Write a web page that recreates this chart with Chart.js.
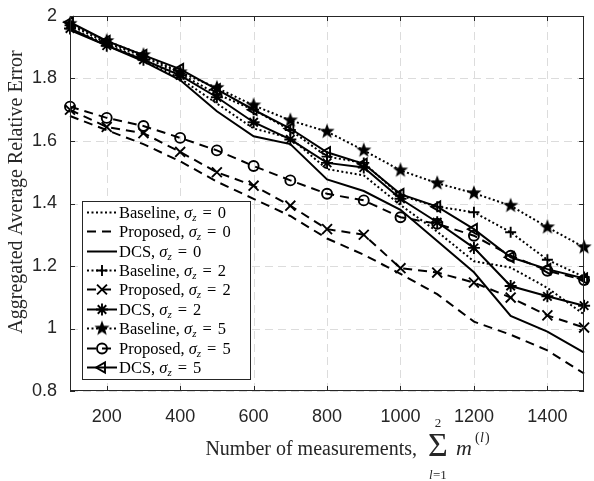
<!DOCTYPE html>
<html>
<head>
<meta charset="utf-8">
<script src="https://cdn.jsdelivr.net/npm/chart.js@4.4.0/dist/chart.umd.min.js"></script>
<style>
  body { margin: 0; background: #fff; }
  #wrap { width: 594px; height: 481px; }
</style>
</head>
<body>
<div id="wrap"><canvas id="errChart" width="594" height="481"></canvas></div>
<script>
// measurements on the x axis
const measurements = [100, 200, 300, 400, 500, 600, 700, 800, 900, 1000, 1100, 1200, 1300, 1400, 1500];
const xTicks = [200, 400, 600, 800, 1000, 1200, 1400];
const yTicks = [0.8, 1, 1.2, 1.4, 1.6, 1.8, 2];

// sigma_z = 0
const baselineS0 = [1.96, 1.91, 1.86, 1.80, 1.72, 1.64, 1.61, 1.51, 1.49, 1.395, 1.31, 1.215, 1.195, 1.13, 1.045];
const proposedS0 = [1.68, 1.635, 1.59, 1.535, 1.47, 1.415, 1.36, 1.288, 1.236, 1.175, 1.11, 1.022, 0.98, 0.93, 0.856];
const dcsS0 = [1.955, 1.905, 1.855, 1.795, 1.695, 1.615, 1.59, 1.477, 1.44, 1.38, 1.28, 1.18, 1.04, 0.99, 0.923];
// sigma_z = 2
const baselineS2 = [1.97, 1.915, 1.87, 1.815, 1.75, 1.70, 1.635, 1.55, 1.53, 1.425, 1.39, 1.372, 1.308, 1.22, 1.165];
const proposedS2 = [1.70, 1.645, 1.625, 1.565, 1.50, 1.457, 1.393, 1.318, 1.30, 1.193, 1.179, 1.147, 1.099, 1.042, 1.003];
const dcsS2 = [1.96, 1.905, 1.86, 1.81, 1.74, 1.66, 1.605, 1.53, 1.515, 1.415, 1.34, 1.258, 1.136, 1.103, 1.073];
// sigma_z = 5
const baselineS5 = [1.975, 1.92, 1.875, 1.82, 1.77, 1.714, 1.666, 1.63, 1.57, 1.506, 1.465, 1.433, 1.393, 1.324, 1.26];
const proposedS5 = [1.71, 1.674, 1.648, 1.61, 1.57, 1.52, 1.474, 1.431, 1.41, 1.356, 1.335, 1.297, 1.233, 1.185, 1.155];
const dcsS5 = [1.98, 1.92, 1.875, 1.83, 1.765, 1.70, 1.64, 1.564, 1.527, 1.43, 1.39, 1.318, 1.228, 1.19, 1.16];

const methodNames = ['Baseline', 'Proposed', 'DCS', 'Baseline', 'Proposed', 'DCS', 'Baseline', 'Proposed', 'DCS'];
const sigmaValues = [0, 0, 0, 2, 2, 2, 5, 5, 5];

const INK = '#262626';
const SERIF = '"Liberation Serif", "DejaVu Serif", serif';
const SANS = '"Liberation Sans", Arial, sans-serif';

// filled five point star (matlab pentagram)
function makePentagram(r) {
  const c = document.createElement('canvas');
  const s = Math.ceil(r * 2 + 2);
  c.width = c.height = s;
  const g = c.getContext('2d');
  g.fillStyle = '#000';
  g.beginPath();
  for (let i = 0; i < 10; i++) {
    const a = -Math.PI / 2 + i * Math.PI / 5;
    const rr = i % 2 ? r * 0.42 : r;
    g.lineTo(s / 2 + rr * Math.cos(a), s / 2 + rr * Math.sin(a));
  }
  g.closePath();
  g.fill();
  return c;
}
const pentagram = makePentagram(8);

const DOT = [2, 2.5];
const DASH = [9, 6];

function series(values, dash, pointStyle, radius, rotation) {
  return {
    data: measurements.map((m, i) => ({ x: m, y: values[i] })),
    borderColor: '#000',
    borderWidth: 2,
    borderDash: dash,
    pointStyle: pointStyle || 'circle',
    pointRadius: pointStyle ? radius : 0,
    pointHoverRadius: pointStyle ? radius : 0,
    pointRotation: rotation || 0,
    pointBorderColor: '#000',
    pointBackgroundColor: 'rgba(0,0,0,0)',
    pointBorderWidth: 1.9,
    tension: 0,
    fill: false,
    clip: false
  };
}

const datasets = [
  series(baselineS0, DOT),
  series(proposedS0, DASH),
  series(dcsS0, []),
  series(baselineS2, DOT, 'cross', 5.5),
  series(proposedS2, DASH, 'crossRot', 7),
  series(dcsS2, [], 'star', 6),
  series(baselineS5, DOT, pentagram, 8),
  series(proposedS5, DASH, 'circle', 5),
  series(dcsS5, [], 'triangle', 6, -90)
];

// dashed grid under the lines
const dashedGrid = {
  id: 'dashedGrid',
  beforeDatasetsDraw(chart) {
    const ctx = chart.ctx;
    const a = chart.chartArea;
    const xs = chart.scales.x, ys = chart.scales.y;
    ctx.save();
    ctx.strokeStyle = '#dcdcdc';
    ctx.lineWidth = 1;
    ctx.setLineDash([8, 5]);
    ctx.beginPath();
    xTicks.forEach(v => {
      const px = Math.round(xs.getPixelForValue(v)) + 0.5;
      ctx.moveTo(px, a.bottom); ctx.lineTo(px, a.top);
    });
    yTicks.forEach(v => {
      const py = Math.round(ys.getPixelForValue(v)) + 0.5;
      ctx.moveTo(a.left, py); ctx.lineTo(a.right, py);
    });
    ctx.stroke();
    ctx.restore();
  }
};

// box, inner ticks, legend, axis titles
const decorations = {
  id: 'decorations',
  afterDraw(chart) {
    const ctx = chart.ctx;
    const a = chart.chartArea;
    const xs = chart.scales.x, ys = chart.scales.y;
    ctx.save();
    ctx.strokeStyle = INK;
    ctx.lineWidth = 1;
    ctx.setLineDash([]);
    ctx.strokeRect(Math.round(a.left) + 0.5, Math.round(a.top) + 0.5,
      Math.round(a.right - a.left) - 1, Math.round(a.bottom - a.top) - 1);
    ctx.beginPath();
    xTicks.forEach(v => {
      const px = Math.round(xs.getPixelForValue(v)) + 0.5;
      ctx.moveTo(px, a.bottom); ctx.lineTo(px, a.bottom - 5);
      ctx.moveTo(px, a.top); ctx.lineTo(px, a.top + 5);
    });
    yTicks.forEach(v => {
      const py = Math.round(ys.getPixelForValue(v)) + 0.5;
      ctx.moveTo(a.left, py); ctx.lineTo(a.left + 5, py);
      ctx.moveTo(a.right, py); ctx.lineTo(a.right - 5, py);
    });
    ctx.stroke();

    // legend
    const L = 82, T = 201, W = 168, H = 178;
    ctx.fillStyle = '#fff';
    ctx.fillRect(L, T, W, H);
    ctx.strokeStyle = INK;
    ctx.strokeRect(L + 0.5, T + 0.5, W, H);
    datasets.forEach((ds, i) => {
      const y = Math.round(211.7 + i * 19.4) + 0.5;
      ctx.save();
      ctx.strokeStyle = '#000';
      ctx.lineWidth = ds.borderWidth;
      ctx.setLineDash(ds.borderDash);
      ctx.beginPath();
      ctx.moveTo(87, y); ctx.lineTo(117, y);
      ctx.stroke();
      ctx.restore();
      if (ds.pointRadius > 0 && Chart.helpers && Chart.helpers.drawPoint) {
        ctx.save();
        ctx.strokeStyle = '#000';
        ctx.fillStyle = 'rgba(0,0,0,0)';
        ctx.lineWidth = ds.pointBorderWidth;
        ctx.setLineDash([]);
        Chart.helpers.drawPoint(ctx, {
          pointStyle: ds.pointStyle, radius: ds.pointRadius,
          rotation: ds.pointRotation, borderWidth: ds.pointBorderWidth
        }, 102, y);
        ctx.restore();
      }
      let tx = 119;
      const base = y + 5;
      ctx.fillStyle = '#000';
      ctx.textAlign = 'left';
      ctx.textBaseline = 'alphabetic';
      ctx.font = '16.5px ' + SERIF;
      const lead = methodNames[i] + ', ';
      ctx.fillText(lead, tx, base); tx += ctx.measureText(lead).width;
      ctx.font = 'italic 16.5px ' + SERIF;
      ctx.fillText('σ', tx, base); tx += ctx.measureText('σ').width;
      ctx.font = 'italic 11px ' + SERIF;
      ctx.fillText('z', tx, base + 3); tx += ctx.measureText('z').width + 6;
      ctx.font = '16.5px ' + SERIF;
      ctx.fillText('=', tx, base); tx += ctx.measureText('=').width + 6;
      ctx.fillText(String(sigmaValues[i]), tx, base);
    });

    // y axis title
    ctx.fillStyle = INK;
    ctx.save();
    ctx.translate(22, 192);
    ctx.rotate(-Math.PI / 2);
    ctx.font = '20px ' + SERIF;
    ctx.textAlign = 'center';
    ctx.fillText('Aggregated Average Relative Error', 0, 0);
    ctx.restore();

    // x axis title
    ctx.font = '20px ' + SERIF;
    ctx.textAlign = 'right';
    ctx.fillText('Number of measurements,', 417, 455);
    ctx.textAlign = 'center';
    ctx.font = '34px ' + SERIF;
    ctx.fillText('Σ', 438, 456);
    ctx.font = '13px ' + SERIF;
    ctx.fillText('2', 438, 427);
    ctx.textAlign = 'left';
    ctx.font = 'italic 13px ' + SERIF;
    ctx.fillText('l', 429, 479);
    ctx.font = '13px ' + SERIF;
    ctx.fillText('=1', 433, 479);
    ctx.font = 'italic 22px ' + SERIF;
    ctx.fillText('m', 456, 455);
    ctx.font = '14px ' + SERIF;
    ctx.fillText('(', 475, 442);
    ctx.font = 'italic 14px ' + SERIF;
    ctx.fillText('l', 480, 442);
    ctx.font = '14px ' + SERIF;
    ctx.fillText(')', 485, 442);
    ctx.restore();
  }
};

new Chart(document.getElementById('errChart').getContext('2d'), {
  type: 'line',
  data: { datasets: datasets },
  options: {
    responsive: false,
    animation: false,
    devicePixelRatio: 1,
    layout: { padding: { left: 0, top: 16, right: 3, bottom: 0 } },
    plugins: {
      legend: { display: false },
      tooltip: { enabled: false }
    },
    scales: {
      x: {
        type: 'linear',
        min: 100,
        max: 1500,
        afterBuildTicks: s => { s.ticks = xTicks.map(v => ({ value: v })); },
        afterFit: s => { s.height = 90; },
        grid: { display: false },
        border: { display: false },
        ticks: {
          color: INK, padding: 7,
          font: { family: SANS, size: 18 },
          callback: v => String(v)
        }
      },
      y: {
        type: 'linear',
        min: 0.8,
        max: 2,
        afterBuildTicks: s => { s.ticks = yTicks.map(v => ({ value: v })); },
        afterFit: s => { s.width = 70; },
        grid: { display: false },
        border: { display: false },
        ticks: {
          color: INK, padding: 5,
          font: { family: SANS, size: 18 },
          callback: v => String(+v.toFixed(1))
        }
      }
    }
  },
  plugins: [dashedGrid, decorations]
});
</script>
</body>
</html>
